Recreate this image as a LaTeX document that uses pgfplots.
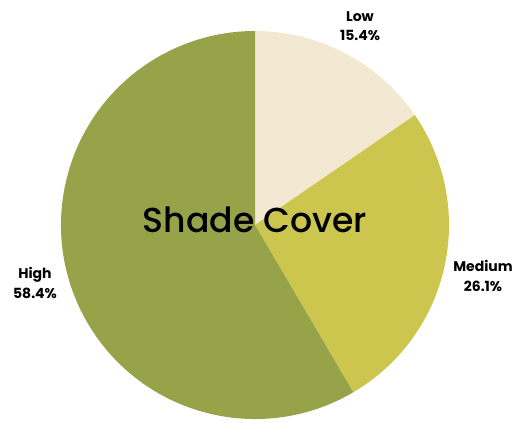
\documentclass[border=0pt]{standalone}
\usepackage{pgfplots}
\usepackage{pgfplotstable}
\pgfplotsset{compat=1.18}
\usepackage{fontspec}
\setmainfont{Poppins}
\newfontfamily\titlefont{Poppins}[UprightFont={* Medium}]
\definecolor{slice0}{HTML}{F3E9D3}
\definecolor{slice1}{HTML}{CCC64F}
\definecolor{slice2}{HTML}{97A348}
\pgfplotstableread{
label value
Low 15.4
Medium 26.1
High 58.4
}\piedata
\begin{document}
\begin{tikzpicture}
\begin{axis}[
  scale only axis, width=397.5pt, height=315.75pt,
  xmin=0, xmax=530, ymin=0, ymax=421,
  hide axis, clip=false]
\path (axis cs:0,0) rectangle (axis cs:530,421);
\def\startang{90}
\pgfplotsforeachungrouped \i in {0,1,2} {%
  \pgfplotstablegetelem{\i}{value}\of\piedata
  \let\sv\pgfplotsretval
  \pgfmathsetmacro\endang{\startang - (\sv/99.9)*360}%
  \edef\cmd{\noexpand\fill[slice\i] (axis cs:255,196) -- ++(\startang:145.5pt) arc[start angle=\startang, end angle=\endang, radius=145.5pt] -- cycle;}%
  \cmd
  \global\let\startang\endang
}
\node[font=\fontsize{26}{30}\selectfont\titlefont] at (axis cs:255,201) {Shade Cover};
\node[font=\fontsize{10.5}{14.5}\selectfont\bfseries, align=center] at (axis cs:360,395) {Low\\15.4\%};
\node[font=\fontsize{10.5}{14.5}\selectfont\bfseries, align=center] at (axis cs:483,145) {Medium\\26.1\%};
\node[font=\fontsize{10.5}{14.5}\selectfont\bfseries, align=center] at (axis cs:35,138) {High\\58.4\%};
\end{axis}
\end{tikzpicture}
\end{document}
